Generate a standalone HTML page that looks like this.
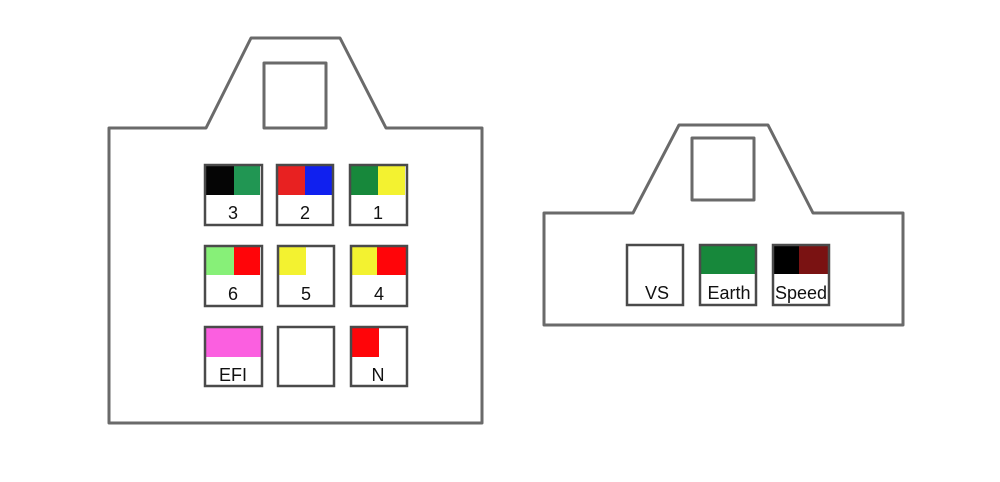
<!DOCTYPE html>
<html><head><meta charset="utf-8"><style>
html,body{margin:0;padding:0;background:#fff;}
svg{display:block;}
text{font-family:"Liberation Sans","DejaVu Sans",sans-serif;font-size:18px;fill:#111;}
</style></head><body>
<svg width="1000" height="482" viewBox="0 0 1000 482" xmlns="http://www.w3.org/2000/svg">
<g fill="none" stroke="#6a6a6a" stroke-width="3" stroke-linejoin="round">
<path d="M109,128 L206,128 L251,38 L340,38 L386,128 L482,128 L482,423 L109,423 Z"/>
<rect x="264" y="63" width="62" height="65"/>
<path d="M544,213 L633,213 L679,125 L768,125 L813,213 L903,213 L903,325 L544,325 Z"/>
<rect x="692" y="138" width="62" height="62"/>
</g>
<g>
<rect x="206" y="166" width="28" height="29" fill="#050505"/><rect x="234" y="166" width="26" height="29" fill="#219653"/>
<rect x="278" y="166" width="27" height="29" fill="#e82121"/><rect x="305" y="166" width="27" height="29" fill="#1020ef"/>
<rect x="351" y="166" width="27" height="29" fill="#17883b"/><rect x="378" y="166" width="27" height="29" fill="#f3f230"/>
<rect x="206" y="247" width="28" height="28" fill="#87f078"/><rect x="234" y="247" width="26" height="28" fill="#ff0509"/>
<rect x="279" y="247" width="27" height="28" fill="#f3f230"/>
<rect x="352" y="247" width="25" height="28" fill="#f3f230"/><rect x="377" y="247" width="29" height="28" fill="#ff0509"/>
<rect x="206" y="328" width="55" height="29" fill="#fb5fe0"/>
<rect x="352" y="328" width="27" height="29" fill="#ff0509"/>
</g>
<g fill="none" stroke="#4a4a4a" stroke-width="2.5">
<rect x="205" y="165" width="57" height="60"/><rect x="277" y="165" width="56" height="60"/><rect x="350" y="165" width="57" height="60"/>
<rect x="205" y="246" width="57" height="60"/><rect x="278" y="246" width="56" height="60"/><rect x="351" y="246" width="56" height="60"/>
<rect x="205" y="327" width="57" height="59"/><rect x="278" y="327" width="56" height="59"/><rect x="351" y="327" width="56" height="59"/>
</g>
<g text-anchor="middle">
<text x="233" y="219">3</text><text x="305" y="219">2</text><text x="378" y="219">1</text>
<text x="233" y="300">6</text><text x="306" y="300">5</text><text x="379" y="300">4</text>
<text x="233" y="381">EFI</text><text x="378" y="381">N</text>
</g>
<rect x="700" y="246" width="56" height="28" fill="#17883b"/>
<rect x="773" y="246" width="26" height="28" fill="#000"/><rect x="799" y="246" width="30" height="28" fill="#7a1212"/>
<g fill="none" stroke="#4a4a4a" stroke-width="2.5">
<rect x="627" y="245" width="56" height="60"/><rect x="700" y="245" width="56" height="60"/><rect x="773" y="245" width="56" height="60"/>
</g>
<g text-anchor="middle">
<text x="657" y="299">VS</text><text x="729" y="299">Earth</text><text x="801" y="299">Speed</text>
</g>
</svg>
</body></html>
